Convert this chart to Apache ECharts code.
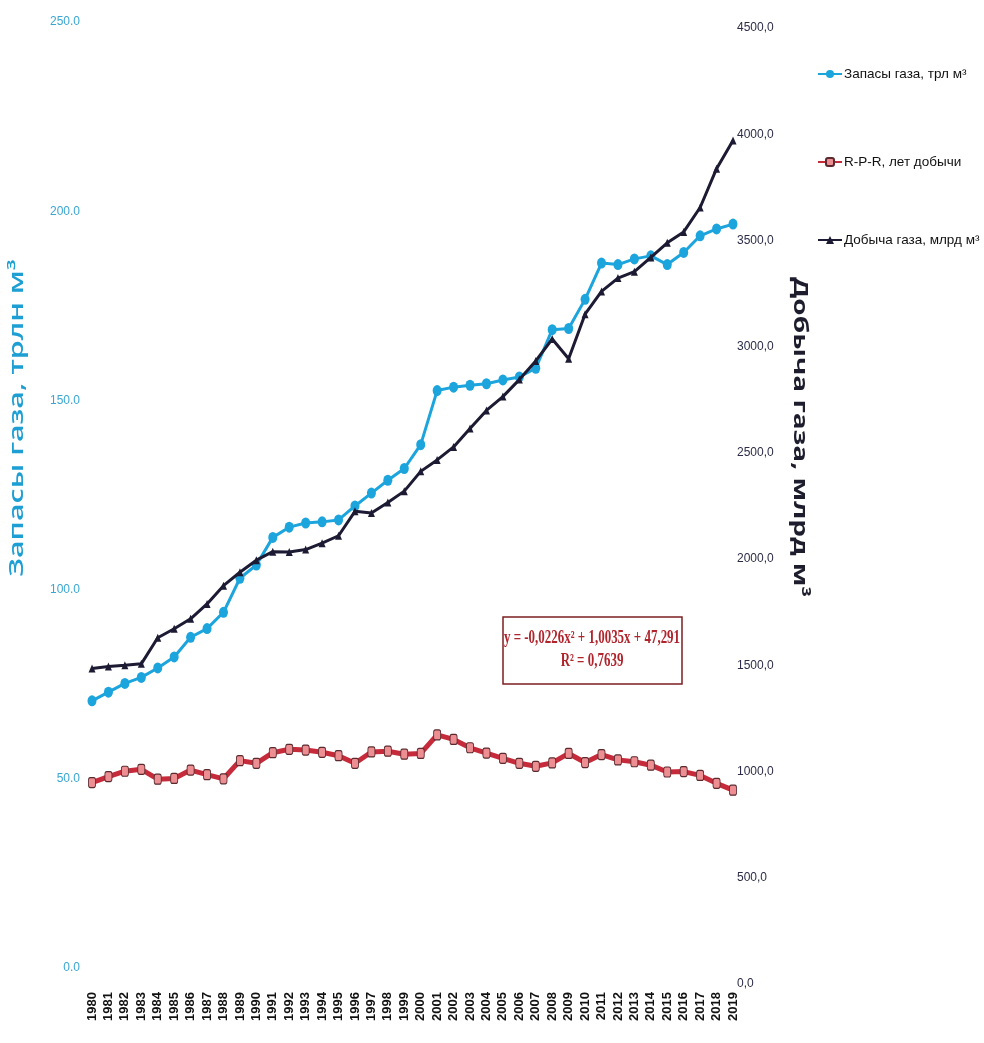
<!DOCTYPE html>
<html>
<head>
<meta charset="utf-8">
<script src="https://cdn.jsdelivr.net/npm/echarts@6/dist/echarts.min.js"></script>
<style>
html,body{margin:0;padding:0;background:#fff;}
#chart{width:984px;height:1043px;}
</style>
</head>
<body>
<div id="chart"></div>
<script>
var years = ['1980','1981','1982','1983','1984','1985','1986','1987','1988','1989',
  '1990','1991','1992','1993','1994','1995','1996','1997','1998','1999',
  '2000','2001','2002','2003','2004','2005','2006','2007','2008','2009',
  '2010','2011','2012','2013','2014','2015','2016','2017','2018','2019'];

var reserves = [70.6, 72.9, 75.2, 76.8, 79.3, 82.2, 87.4, 89.7, 94.0, 103.0,
  106.5, 113.8, 116.5, 117.6, 117.9, 118.4, 122.1, 125.5, 128.9, 132.0,
  138.3, 152.6, 153.5, 154.0, 154.4, 155.4, 156.2, 158.5, 168.7, 169.0,
  176.7, 186.3, 185.9, 187.4, 188.2, 185.9, 189.1, 193.5, 195.3, 196.6];

var rpr = [49.0, 50.6, 52.0, 52.5, 49.9, 50.1, 52.3, 51.1, 50.0, 54.8,
  54.1, 56.9, 57.8, 57.6, 57.0, 56.1, 54.1, 57.1, 57.3, 56.5,
  56.7, 61.6, 60.4, 58.2, 56.8, 55.4, 54.1, 53.3, 54.2, 56.7,
  54.3, 56.4, 55.0, 54.5, 53.6, 51.8, 51.9, 50.9, 48.8, 47.0];

var production = [1485, 1495, 1500, 1507, 1630, 1672, 1719, 1789, 1875, 1938,
  1995, 2035, 2033, 2045, 2075, 2110, 2225, 2217, 2266, 2320,
  2413, 2467, 2528, 2615, 2700, 2765, 2845, 2933, 3036, 2943,
  3153, 3260, 3323, 3353, 3420, 3489, 3540, 3655, 3838, 3970];

var leftTicks = [0, 50, 100, 150, 200, 250];
var rightTicks = [0, 500, 1000, 1500, 2000, 2500, 3000, 3500, 4000, 4500];

var nameReserves = 'Запасы газа, трл м³';
var nameRpr = 'R-P-R, лет добычи';
var nameProd = 'Добыча газа, млрд м³';

var narrow = '"Liberation Sans Narrow", "Arial Narrow", "Liberation Sans", sans-serif';

var chart = echarts.init(document.getElementById('chart'), null, {renderer: 'canvas'});

function legendAt(name, top) {
  return {
    data: [name],
    left: 817,
    top: top,
    orient: 'vertical',
    itemWidth: 24,
    itemHeight: 10,
    padding: 0,
    selectedMode: false,
    textStyle: {fontFamily: '"Liberation Sans", sans-serif', fontSize: 13.5, color: '#111', padding: [0, 0, 0, -3]}
  };
}

var option = {
  animation: false,
  backgroundColor: '#fff',
  grid: [
    {left: 92, right: 251, top: 22, bottom: 75},
    {left: 92, right: 251, top: 28, bottom: 59}
  ],
  legend: [
    legendAt(nameReserves, 67),
    legendAt(nameRpr, 155),
    legendAt(nameProd, 233)
  ],
  xAxis: [
    {type: 'category', gridIndex: 0, data: years, boundaryGap: false,
     axisLine: {show: false}, axisTick: {show: false}, axisLabel: {show: false}, splitLine: {show: false}},
    {type: 'category', gridIndex: 1, data: years, boundaryGap: false,
     axisLine: {show: false}, axisTick: {show: false}, splitLine: {show: false},
     axisLabel: {show: true, interval: 0, rotate: 90, margin: 8, color: '#111',
       fontWeight: 'bold', fontSize: 13, fontFamily: '"Liberation Sans", sans-serif'}}
  ],
  yAxis: [
    {type: 'value', gridIndex: 0, position: 'left', min: leftTicks[0], max: leftTicks[leftTicks.length - 1], interval: 50,
     axisLine: {show: false}, axisTick: {show: false}, splitLine: {show: false},
     axisLabel: {margin: 12, color: '#3AA6D2', fontSize: 12, fontFamily: narrow,
       formatter: function (v) { return v.toFixed(1); }}},
    {type: 'value', gridIndex: 1, position: 'right', min: rightTicks[0], max: rightTicks[rightTicks.length - 1], interval: 500,
     axisLine: {show: false}, axisTick: {show: false}, splitLine: {show: false},
     axisLabel: {margin: 4, color: '#2c2c48', fontSize: 12, fontFamily: narrow,
       formatter: function (v) { return v.toFixed(1).replace('.', ','); }}}
  ],
  series: [
    {name: nameRpr, type: 'line', xAxisIndex: 0, yAxisIndex: 0, data: rpr,
     showSymbol: true, showAllSymbol: true,
     symbol: 'roundRect', symbolSize: [7, 10],
     lineStyle: {color: '#C62B3B', width: 5},
     itemStyle: {color: '#EC8E92', borderColor: '#5a2a2e', borderWidth: 1},
     z: 2},
    {name: nameReserves, type: 'line', xAxisIndex: 0, yAxisIndex: 0, data: reserves,
     showSymbol: true, showAllSymbol: true,
     symbol: 'circle', symbolSize: [9, 11],
     lineStyle: {color: '#1CA4DD', width: 3},
     itemStyle: {color: '#1CA4DD'},
     z: 3},
    {name: nameProd, type: 'line', xAxisIndex: 1, yAxisIndex: 1, data: production,
     showSymbol: true, showAllSymbol: true,
     symbol: 'triangle', symbolSize: [7, 8],
     lineStyle: {color: '#1c1b33', width: 3},
     itemStyle: {color: '#1c1b33'},
     z: 4}
  ],
  graphic: [
    {type: 'text', x: 18, y: 418, rotation: Math.PI / 2, scaleX: 1.6,
     style: {text: 'Запасы газа, трлн м³', font: '600 19px "Open Sans", sans-serif', fill: '#1E9FD4',
       textAlign: 'center', textVerticalAlign: 'middle', verticalAlign: 'middle'}},
    {type: 'text', x: 800, y: 437, rotation: -Math.PI / 2, scaleX: 1.4,
     style: {text: 'Добыча газа, млрд м³', font: 'bold 20px "Open Sans", sans-serif', fill: '#1d1d2e',
       textAlign: 'center', textVerticalAlign: 'middle', verticalAlign: 'middle'}},
    {type: 'rect', shape: {x: 503, y: 617, width: 179, height: 67},
     style: {fill: '#fff', stroke: '#7d1f22', lineWidth: 1.5}, z: 10},
    {type: 'text', x: 592, y: 638, scaleX: 0.72, z: 11,
     style: {text: 'y = -0,0226x² + 1,0035x + 47,291', font: 'bold 18px "Liberation Serif", serif', fill: '#B0242C',
       textAlign: 'center', textVerticalAlign: 'middle', verticalAlign: 'middle'}},
    {type: 'text', x: 592, y: 661, scaleX: 0.72, z: 11,
     style: {text: 'R² = 0,7639', font: 'bold 18px "Liberation Serif", serif', fill: '#B0242C',
       textAlign: 'center', textVerticalAlign: 'middle', verticalAlign: 'middle'}}
  ]
};
chart.setOption(option);
</script>
</body>
</html>
